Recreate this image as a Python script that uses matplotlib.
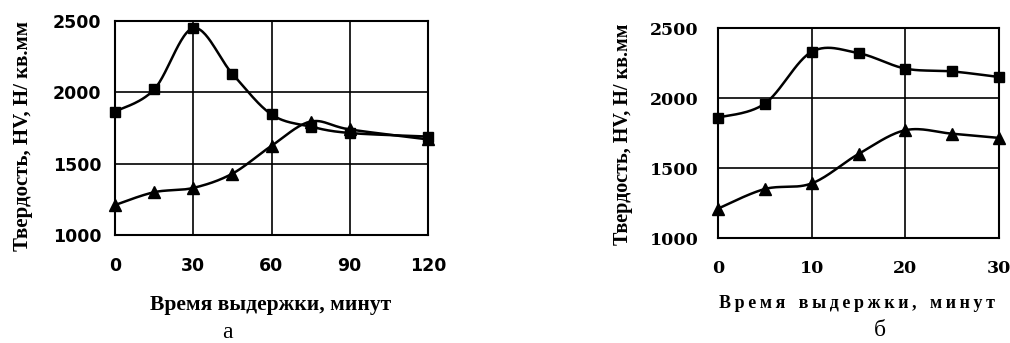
import numpy as np
import matplotlib
matplotlib.use("Agg")
import matplotlib.pyplot as plt
from matplotlib.font_manager import FontProperties

# --- данные (а): выдержка до 120 мин
t_a = [0, 15, 30, 45, 60, 75, 90, 120]
hv_sq_a = [1865, 2020, 2450, 2130, 1845, 1760, 1715, 1690]
hv_tr_a = [1210, 1300, 1330, 1430, 1625, 1795, 1740, 1670]

# --- данные (б): выдержка до 30 мин
t_b = [0, 5, 10, 15, 20, 25, 30]
hv_sq_b = [1860, 1960, 2330, 2320, 2210, 2190, 2150]
hv_tr_b = [1210, 1350, 1390, 1600, 1770, 1745, 1715]

xticks_a = [0, 30, 60, 90, 120]
xticks_b = [0, 10, 20, 30]
yticks = [1000, 1500, 2000, 2500]

YLABEL = "Твердость, HV, Н/ кв.мм"
XLABEL = "Время выдержки, минут"

W, H = 1010, 343


def smooth(x, y, n=30):
    # сглаживание как в Excel: кубические Безье по Catmull-Rom
    x = np.asarray(x, float)
    y = np.asarray(y, float)
    px = np.r_[x[0], x, x[-1]]
    py = np.r_[y[0], y, y[-1]]
    xs, ys = [], []
    s = np.linspace(0, 1, n)
    for i in range(1, len(px) - 2):
        p0 = np.array([px[i], py[i]])
        p3 = np.array([px[i + 1], py[i + 1]])
        c1 = p0 + (np.array([px[i + 1], py[i + 1]]) - np.array([px[i - 1], py[i - 1]])) / 6
        c2 = p3 - (np.array([px[i + 2], py[i + 2]]) - np.array([px[i], py[i]])) / 6
        b = ((1 - s) ** 3)[:, None] * p0 + (3 * (1 - s) ** 2 * s)[:, None] * c1 \
            + (3 * (1 - s) * s ** 2)[:, None] * c2 + (s ** 3)[:, None] * p3
        xs.append(b[:, 0])
        ys.append(b[:, 1])
    return np.concatenate(xs), np.concatenate(ys)


def panel(ax, t, sq, tr, xticks, tickfont):
    for y, mk, ms in [(sq, "s", 7), (tr, "^", 8)]:
        sx, sy = smooth(t, y)
        ax.plot(sx, sy, color="black", lw=1.8, clip_on=False, zorder=3)
        ax.plot(t, y, ls="none", marker=mk, ms=ms, color="black", clip_on=False, zorder=4)
    ax.set_xlim(xticks[0], xticks[-1])
    ax.set_ylim(1000, 2500)
    ax.set_xticks(xticks)
    ax.set_yticks(yticks)
    ax.grid(True, color="black", lw=1.2)
    ax.set_axisbelow(True)
    ax.tick_params(length=0, pad=14)
    for lab in ax.get_xticklabels() + ax.get_yticklabels():
        lab.set_fontproperties(tickfont)
    for sp in ax.spines.values():
        sp.set_linewidth(1.5)


fig = plt.figure(figsize=(W / 100, H / 100), dpi=100)

ax_a = fig.add_axes([115 / W, 1 - 235 / H, 313 / W, 214 / H])
ax_b = fig.add_axes([718 / W, 1 - 238 / H, 281 / W, 210 / H])

fa = FontProperties(family="DejaVu Sans", weight="bold", size=12.5)
fb = FontProperties(family="DejaVu Serif", weight="bold", size=12.5)

panel(ax_a, t_a, hv_sq_a, hv_tr_a, xticks_a, fa)
ax_a.tick_params(axis="y", pad=10)
ax_a.tick_params(axis="x", pad=16)
panel(ax_b, t_b, hv_sq_b, hv_tr_b, xticks_b, fb)
ax_b.tick_params(axis="y", pad=14)
ax_b.tick_params(axis="x", pad=16)

serif = "Liberation Serif"
fig.text(23 / W, 1 - 136 / H, YLABEL, rotation=90, ha="center", va="center",
         family=serif, weight="bold", size=15)
fig.text(623 / W, 1 - 134 / H, YLABEL, rotation=90, ha="center", va="center",
         family=serif, weight="bold", size=14.5)
fig.text(271 / W, 1 - 305 / H, XLABEL, ha="center", va="center",
         family=serif, weight="bold", size=15.5)
# у (б) подпись набрана вразрядку
spaced = "   ".join("\u2009".join(w) for w in XLABEL.split(" "))
fig.text(857 / W, 1 - 304 / H, spaced, ha="center", va="center",
         family=[serif, "DejaVu Serif"], weight="bold", size=13)
fig.text(227 / W, 1 - 332 / H, "а", ha="center", va="center", family=serif, size=17)
fig.text(880 / W, 1 - 330 / H, "б", ha="center", va="center", family=serif, size=17)

fig.savefig("out.png", dpi=100)
